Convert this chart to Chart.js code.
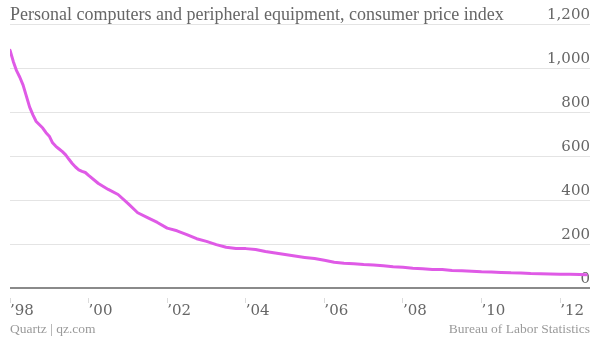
<!DOCTYPE html>
<html>
<head>
<meta charset="utf-8">
<script src="https://cdn.jsdelivr.net/npm/chart.js@4"></script>
<style>
  html, body { margin: 0; padding: 0; background: #fff; }
  #wrap { width: 600px; height: 338px; }
</style>
</head>
<body>
<div id="wrap"><canvas id="chart" width="600" height="338"></canvas></div>
<script>
// CPI, personal computers and peripheral equipment (Dec 2007 = 100)
const periods = [
  "1998-01", "1998-02", "1998-03", "1998-04", "1998-05", "1998-06",
  "1998-07", "1998-08", "1998-09", "1998-10", "1998-11", "1998-12",
  "1999-01", "1999-02", "1999-03", "1999-04", "1999-05", "1999-06",
  "1999-07", "1999-08", "1999-09", "1999-10", "1999-11", "1999-12",
  "2000-01", "2000-04", "2000-07", "2000-10", "2001-01", "2001-04", "2001-07", "2001-10",
  "2002-01", "2002-04", "2002-07", "2002-10", "2003-01", "2003-04", "2003-07", "2003-10",
  "2004-01", "2004-04", "2004-07", "2004-10", "2005-01", "2005-04", "2005-07", "2005-10",
  "2006-01", "2006-04", "2006-07", "2006-10", "2007-01", "2007-04", "2007-07", "2007-10",
  "2008-01", "2008-04", "2008-07", "2008-10", "2009-01", "2009-04", "2009-07", "2009-10",
  "2010-01", "2010-04", "2010-07", "2010-10", "2011-01", "2011-04", "2011-07", "2011-10",
  "2012-01", "2012-04", "2012-07", "2012-09"
]
const cpi = [
  1081, 1030, 988, 958, 922, 872,
  822, 787, 757, 742, 727, 706,
  690, 660, 644, 632, 620, 605,
  585, 566, 550, 537, 530, 525,
  512, 475, 448, 425, 385, 342, 320, 298,
  272, 260, 243, 224, 212, 197, 185, 180,
  179, 175, 166, 159, 152, 145, 139, 134,
  126, 117, 113, 110, 107, 105, 101, 97,
  94, 90, 87, 84, 84, 80, 78, 76,
  74, 73, 71, 69, 68, 66, 65, 64,
  63, 62, 61, 60
]
const yTicks = [0, 200, 400, 600, 800, 1000, 1200]
const xTickYears = [1998, 2000, 2002, 2004, 2006, 2008, 2010, 2012]

const title = "Personal computers and peripheral equipment, consumer price index"
const sourceLeft = "Quartz | qz.com"
const sourceRight = "Bureau of Labor Statistics"

const toYear = (p) => {
  const [y, m] = p.split("-").map(Number)
  return y + (m - 1) / 12
}
const points = periods.map((p, i) => ({ x: toYear(p), y: cpi[i] }))

const footer = {
  id: "footer",
  afterDraw(chart) {
    const ctx = chart.ctx
    ctx.save()
    ctx.font = "13.5px 'Liberation Serif'"
    ctx.fillStyle = "#9a9a9a"
    ctx.textBaseline = "alphabetic"
    ctx.textAlign = "left"
    ctx.fillText(sourceLeft, chart.chartArea.left, 333)
    ctx.textAlign = "right"
    ctx.fillText(sourceRight, chart.chartArea.right, 333)
    ctx.restore()
  }
}

new Chart(document.getElementById("chart"), {
  type: "line",
  data: {
    datasets: [{
      data: points,
      borderColor: "#df5ae6",
      borderWidth: 3,
      pointRadius: 0,
      tension: 0,
      borderCapStyle: "round",
      borderJoinStyle: "round"
    }]
  },
  options: {
    responsive: false,
    animation: false,
    layout: { padding: { left: 10, right: 10, top: 0, bottom: 19 } },
    plugins: {
      legend: { display: false },
      tooltip: { enabled: false },
      title: {
        display: true,
        text: title,
        align: "start",
        color: "#666",
        font: { family: "'Liberation Serif'", size: 18, weight: "normal", lineHeight: 1 },
        padding: { top: 6, bottom: 0 }
      }
    },
    scales: {
      x: {
        type: "linear",
        min: 1998,
        max: 2012.76,
        border: { display: false },
        grid: {
          drawOnChartArea: false,
          drawTicks: true,
          tickLength: 15,
          tickColor: "#dcdcdc",
          tickWidth: 1,
          tickBorderDash: [0, 10, 5, 100]
        },
        afterBuildTicks: (scale) => { scale.ticks = xTickYears.map((v) => ({ value: v })) },
        ticks: {
          align: "start",
          padding: -1,
          maxRotation: 0,
          color: "#666",
          font: { family: "'DejaVu Serif'", size: 15 },
          callback: (v) => "\u2019" + String(v).slice(2)
        }
      },
      y: {
        position: "right",
        min: 0,
        max: 1200,
        border: { display: false },
        grid: {
          drawTicks: false,
          color: (c) => c.tick && c.tick.value === 0 ? "#8a8a8a" : "#e4e4e4",
          lineWidth: (c) => c.tick && c.tick.value === 0 ? 2 : 1
        },
        afterBuildTicks: (scale) => { scale.ticks = yTicks.map((v) => ({ value: v })) },
        ticks: {
          mirror: true,
          padding: 0,
          labelOffset: -9,
          color: "#666",
          font: { family: "'DejaVu Serif'", size: 15 },
          callback: (v) => v.toLocaleString("en-US")
        }
      }
    }
  },
  plugins: [footer]
})
</script>
</body>
</html>
